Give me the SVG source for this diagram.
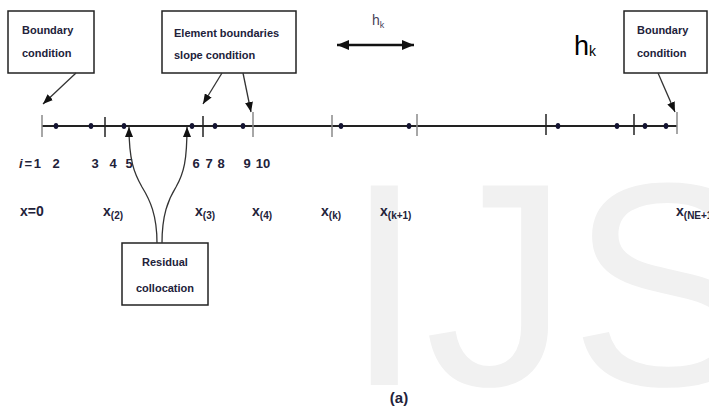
<svg xmlns="http://www.w3.org/2000/svg" width="709" height="408" viewBox="0 0 709 408">
<style>
.box{fill:#fff;stroke:#222;stroke-width:1.5}
.t{font-family:"Liberation Sans",Arial,sans-serif;font-weight:bold;fill:#22223a}
.bt{font-size:11px}
.num{font-size:13px;text-anchor:middle}
.xl{font-size:14px}
.sub{font-size:10px}
.con{fill:none;stroke:#333;stroke-width:1.3}
.tick{stroke:#222;stroke-width:1.5}
.gtick{stroke:#8a8a8a;stroke-width:1.5}
.dot{fill:#141432}
</style>
<defs>
<marker id="ah" viewBox="0 0 10 8" refX="10" refY="4" markerWidth="10" markerHeight="8" markerUnits="userSpaceOnUse" orient="auto">
<path d="M0,0 L10,4 L0,8 Z" fill="#111"/>
</marker>
<marker id="dh" viewBox="0 0 12 10" refX="12" refY="5" markerWidth="12" markerHeight="10" markerUnits="userSpaceOnUse" orient="auto-start-reverse">
<path d="M0,0 L12,5 L0,10 Z" fill="#111"/>
</marker>
</defs>
<rect width="709" height="408" fill="#fff"/>
<text x="344" y="385" font-family="Liberation Sans,Arial,sans-serif" font-size="290" fill="#f1f1f1">IJS</text>

<g id="axis">
<line x1="42" y1="126" x2="677" y2="126" stroke="#222" stroke-width="2"/>
<line class="gtick" x1="42" y1="115" x2="42" y2="137"/>
<line class="tick" x1="105" y1="117" x2="105" y2="137"/>
<line class="tick" x1="203" y1="116" x2="203" y2="137"/>
<line class="gtick" x1="253" y1="112" x2="253" y2="137"/>
<line class="gtick" x1="332" y1="115" x2="332" y2="137"/>
<line class="gtick" x1="417" y1="114" x2="417" y2="136"/>
<line class="tick" x1="546" y1="114" x2="546" y2="135"/>
<line class="tick" x1="634" y1="114" x2="634" y2="135"/>
<line class="gtick" x1="677" y1="112" x2="677" y2="134"/>
<ellipse class="dot" cx="56" cy="126" rx="2.3" ry="3"/>
<ellipse class="dot" cx="91" cy="126" rx="2.3" ry="3"/>
<ellipse class="dot" cx="124" cy="126" rx="2.3" ry="3"/>
<ellipse class="dot" cx="192" cy="126" rx="2.3" ry="3"/>
<ellipse class="dot" cx="215" cy="126" rx="2.3" ry="3"/>
<ellipse class="dot" cx="243" cy="126" rx="2.3" ry="3"/>
<ellipse class="dot" cx="341" cy="126" rx="2.3" ry="3"/>
<ellipse class="dot" cx="409" cy="126" rx="2.3" ry="3"/>
<ellipse class="dot" cx="558" cy="126" rx="2.3" ry="3"/>
<ellipse class="dot" cx="617" cy="126" rx="2.3" ry="3"/>
<ellipse class="dot" cx="645" cy="126" rx="2.3" ry="3"/>
<ellipse class="dot" cx="666" cy="126" rx="2.3" ry="3"/>
</g>

<g id="index-labels">
<text class="t" x="19" y="168" font-size="13" textLength="22"><tspan font-style="italic">i</tspan>=1</text>
<text class="t num" x="56" y="168">2</text>
<text class="t num" x="95" y="168">3</text>
<text class="t num" x="113" y="168">4</text>
<text class="t num" x="129" y="168">5</text>
<text class="t num" x="196" y="168">6</text>
<text class="t num" x="209" y="168">7</text>
<text class="t num" x="221" y="168">8</text>
<text class="t num" x="247" y="168">9</text>
<text class="t num" x="263" y="168">10</text>
</g>

<g id="x-labels">
<text class="t xl" x="20" y="216">x=0</text>
<text class="t xl" x="103" y="216">x<tspan class="sub" dy="3">(2)</tspan></text>
<text class="t xl" x="195" y="216">x<tspan class="sub" dy="3">(3)</tspan></text>
<text class="t xl" x="252" y="216">x<tspan class="sub" dy="3">(4)</tspan></text>
<text class="t xl" x="321" y="216">x<tspan class="sub" dy="3">(k)</tspan></text>
<text class="t xl" x="380" y="216">x<tspan class="sub" dy="3">(k+1)</tspan></text>
<text class="t xl" x="676" y="216">x<tspan class="sub" dy="3">(NE+1)</tspan></text>
</g>

<g id="box-boundary-left">
<rect class="box" x="8" y="11" width="86" height="62"/>
<text class="t bt" x="22" y="34">Boundary</text>
<text class="t bt" x="22" y="57">condition</text>
</g>

<g id="box-element">
<rect class="box" x="162" y="11" width="134" height="62"/>
<text class="t bt" x="174" y="37">Element boundaries</text>
<text class="t bt" x="174" y="59">slope condition</text>
</g>

<g id="box-boundary-right">
<rect class="box" x="624" y="11" width="83" height="62"/>
<text class="t bt" x="637" y="34">Boundary</text>
<text class="t bt" x="637" y="57">condition</text>
</g>

<g id="box-residual">
<rect class="box" x="122" y="243" width="86" height="62"/>
<text class="t bt" x="165" y="266" text-anchor="middle">Residual</text>
<text class="t bt" x="165" y="292" text-anchor="middle">collocation</text>
</g>

<g id="hk-marker">
<text x="372" y="25" font-family="Liberation Sans,Arial,sans-serif" font-size="14" fill="#4a3f5a">h<tspan font-size="9" dy="3">k</tspan></text>
<line x1="337" y1="45" x2="414" y2="45" stroke="#111" stroke-width="2.5" marker-start="url(#dh)" marker-end="url(#dh)"/>
<text x="574" y="55" font-family="Liberation Sans,Arial,sans-serif" font-size="27" fill="#000">h<tspan font-size="14" dy="1">k</tspan></text>
</g>

<g id="connectors">
<line class="con" x1="76" y1="73" x2="43" y2="104" marker-end="url(#ah)"/>
<line class="con" x1="222" y1="73" x2="203" y2="104" marker-end="url(#ah)"/>
<line class="con" x1="243" y1="73" x2="251" y2="112" marker-end="url(#ah)"/>
<line class="con" x1="658" y1="73" x2="675" y2="112" marker-end="url(#ah)"/>
<path class="con" d="M157,243 C157,215 150,200 142,187 C134,173 129,160 129,127" marker-end="url(#ah)"/>
<path class="con" d="M162,243 C162,215 168,200 176,187 C184,173 187,160 187,127" marker-end="url(#ah)"/>
</g>

<text class="t" x="399" y="403" font-size="15" text-anchor="middle">(a)</text>
</svg>
